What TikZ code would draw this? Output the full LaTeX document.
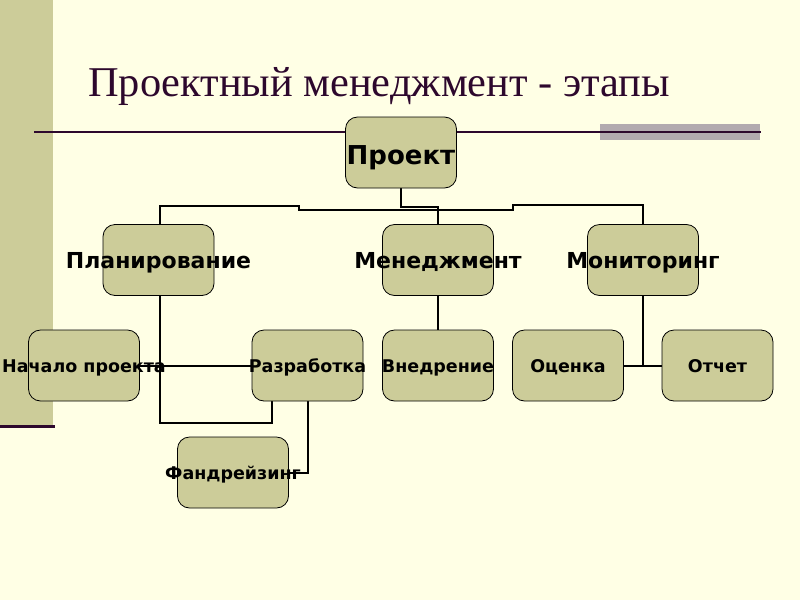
\documentclass[tikz,border=0pt]{standalone}
\usepackage{fontspec}
\setmainfont{Liberation Serif}
\newfontfamily\boxfont{DejaVu Sans}
\definecolor{bgcol}{RGB}{255,255,229}
\definecolor{bandcol}{RGB}{204,204,153}
\definecolor{boxfill}{RGB}{204,204,153}
\definecolor{titlecol}{RGB}{45,8,45}
\definecolor{graycol}{RGB}{178,170,175}
\pgfdeclarelayer{back}
\pgfdeclarelayer{conn}
\pgfsetlayers{back,conn,main}
\tikzset{
  boxst/.style={draw=black, line width=0.8pt, fill=boxfill, rounded corners=12pt,
    minimum width=111pt, minimum height=71pt, inner sep=0pt, text depth=0pt},
  big/.style={font=\boxfont\bfseries\fontsize{26}{30}\selectfont, text height=24pt},
  mid/.style={font=\boxfont\bfseries\fontsize{22}{26}\selectfont, text height=16pt},
  small/.style={font=\boxfont\bfseries\fontsize{17.5}{21}\selectfont, text height=13.5pt},
  conn/.style={draw=black, line width=2pt},
  titlest/.style={font=\fontsize{42.4}{48}\selectfont, text=titlecol, inner sep=0pt}
}
\begin{document}
\begin{tikzpicture}[x=1pt,y=-1pt]
\useasboundingbox (0,0) rectangle (800,600);
\begin{pgfonlayer}{back}
  \fill[bgcol] (0,0) rectangle (800,600);
  \fill[bandcol] (0,0) rectangle (53,425);
  \draw[titlecol, line width=3pt] (0,426.5) -- (55,426.5);
  \fill[graycol] (600,124) rectangle (760,140);
  \draw[titlecol, line width=2pt] (34,132) -- (761,132);
\end{pgfonlayer}

\node[titlest, anchor=base west] (title) at (88,96) {Проектный менеджмент - этапы};

\node[boxst, big] (p) at (401,152.5) {\makebox[0pt]{Проект}};
\node[boxst, mid] (pl) at (158.5,260) {\makebox[0pt]{Планирование}};
\node[boxst, mid] (m) at (438,260) {\makebox[0pt]{Менеджмент}};
\node[boxst, mid] (mo) at (643,260) {\makebox[0pt]{Мониторинг}};
\node[boxst, small] (n) at (84,365.5) {\makebox[0pt]{Начало проекта}};
\node[boxst, small] (r) at (307.5,365.5) {\makebox[0pt]{Разработка}};
\node[boxst, small] (v) at (438,365.5) {\makebox[0pt]{Внедрение}};
\node[boxst, small] (oc) at (568,365.5) {\makebox[0pt]{Оценка}};
\node[boxst, small] (ot) at (717.5,365.5) {\makebox[0pt]{Отчет}};
\node[boxst, small] (f) at (233,472.5) {\makebox[0pt]{Фандрейзинг}};

\coordinate (rs) at ([xshift=-35.5pt]r.south);
\coordinate (pls) at ([xshift=1.5pt]pl.south);
\coordinate (pln) at ([xshift=1.5pt]pl.north);

\begin{pgfonlayer}{conn}
  \draw[conn] (p.south) -- ++(0,19) -| (m.north);
  \draw[conn] (pln) |- (299,205.5) |- (p.south |- 0,209.5);
  \draw[conn] (p.south |- 0,209.5) -| (513,205) -| (mo.north);
  \draw[conn] (m.south) -- (v.north);
  \draw[conn] (mo.south) -- (mo.south |- oc.east);
  \draw[conn] (oc.east) -- (ot.west);
  \draw[conn] (n.east) -- (r.west);
  \draw[conn] (pls) |- (rs |- 0,423) -- (rs);
  \draw[conn] (r.south) |- (f.east);
\end{pgfonlayer}
\end{tikzpicture}
\end{document}
